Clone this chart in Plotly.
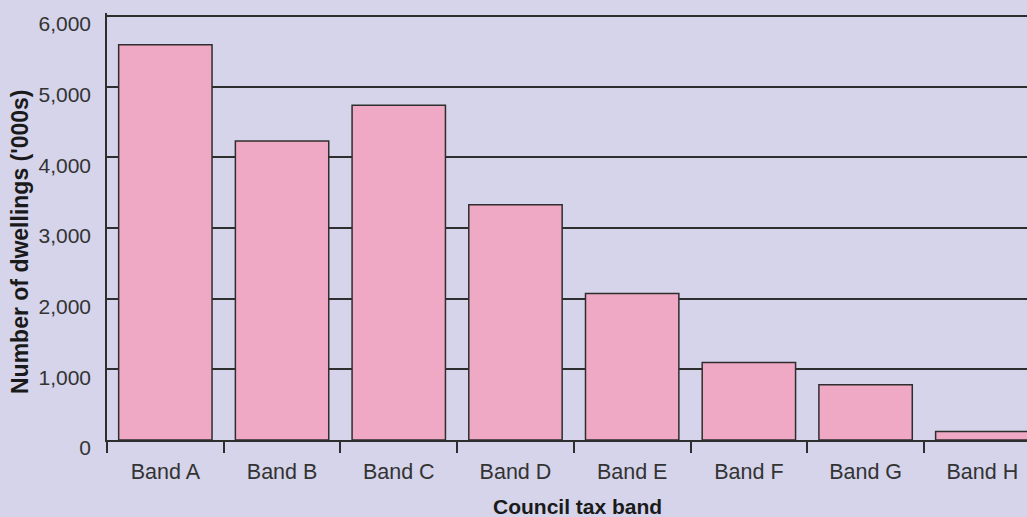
import plotly.graph_objects as go

categories = ["Band A", "Band B", "Band C", "Band D", "Band E", "Band F", "Band G", "Band H"]
dwellings = [5590, 4230, 4736, 3326, 2074, 1095, 783, 120]
y_ticks = [0, 1000, 2000, 3000, 4000, 5000, 6000]
y_tick_labels = ["0", "1,000", "2,000", "3,000", "4,000", "5,000", "6,000"]

BG = "#d5d4ea"
BAR = "#f0a9c4"
LINE = "#2e2e2e"
TEXT = "#333333"
FONT = "Liberation Sans, Arial, sans-serif"

fig = go.Figure(
    go.Bar(
        x=categories,
        y=dwellings,
        width=0.8,
        marker=dict(color=BAR, line=dict(color=LINE, width=1.5)),
        hoverinfo="skip",
    )
)

fig.update_layout(
    width=1027,
    height=517,
    margin=dict(l=107, r=0, t=13, b=77),
    paper_bgcolor=BG,
    plot_bgcolor=BG,
    showlegend=False,
    font=dict(family=FONT, color=TEXT, size=21),
    annotations=[
        dict(
            text="<b>Council tax band</b>",
            xref="paper", yref="paper",
            x=(577 - 107) / 920, y=0,
            yshift=-66, xanchor="center", yanchor="middle",
            showarrow=False,
            font=dict(family=FONT, size=21, color="#1a1a1a"),
        ),
        dict(
            text="<b>Number of dwellings ('000s)</b>",
            xref="paper", yref="paper",
            x=0, y=(440 - 242) / 427,
            xshift=-87, xanchor="center", yanchor="middle",
            textangle=-90,
            showarrow=False,
            font=dict(family=FONT, size=23, color="#1a1a1a"),
        ),
    ],
)

fig.update_xaxes(
    type="category",
    range=[-0.5, 7.383],
    showline=True,
    linecolor=LINE,
    linewidth=1.5,
    ticks="outside",
    tickson="boundaries",
    ticklen=11,
    tickwidth=1.5,
    tickcolor=LINE,
    showgrid=False,
    tickfont=dict(family=FONT, size=21.5, color=TEXT),
    ticklabelstandoff=11,
)

fig.update_yaxes(
    range=[0, 6040],
    tickvals=y_ticks,
    ticktext=y_tick_labels,
    showline=True,
    linecolor=LINE,
    linewidth=1.5,
    ticks="",
    showgrid=True,
    gridcolor=LINE,
    gridwidth=1.5,
    zeroline=False,
    tickfont=dict(family=FONT, size=21, color=TEXT),
    ticklabelstandoff=10,
    ticklabelshift=8,
)

fig.write_html(
    "out.html",
    config={"displayModeBar": False},
    post_script="document.body.style.margin='0';document.body.style.background='" + BG + "';",
)
